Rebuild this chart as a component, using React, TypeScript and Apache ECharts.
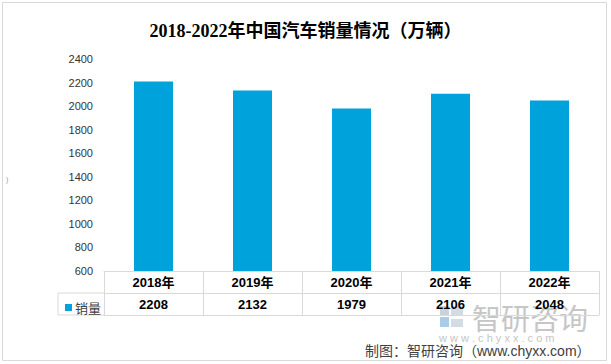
import React, { useEffect, useRef } from "react";
import * as echarts from "echarts";

const categories = ["2018年", "2019年", "2020年", "2021年", "2022年"];
const sales = [2208, 2132, 1979, 2106, 2048];
const seriesName = "销量";
const yMin = 600;
const yMax = 2400;
const yInterval = 200;

const LINE = "#d9d9d9";
const BAR = "#00a2dc";

export default function App() {
  const ref = useRef<HTMLDivElement>(null);
  useEffect(() => {
    if (!ref.current) return;
    const chart = echarts.init(ref.current, null, { renderer: "svg" });
    const valueLabels = sales.map((v) => String(v));
    chart.setOption({
      animation: false,
      backgroundColor: "#ffffff",
      title: {
        text: "2018-2022年中国汽车销量情况（万辆）",
        left: "center",
        top: 17,
        textStyle: {
          fontFamily: "'Liberation Serif', 'Noto Sans CJK SC'",
          fontSize: 18,
          fontWeight: "bold",
          color: "#000",
        },
      },
      legend: {
        left: 60,
        top: 296,
        icon: "rect",
        itemWidth: 7,
        itemHeight: 7,
        itemGap: 4,
        textStyle: { fontSize: 13, color: "#404040", fontFamily: "'Noto Sans CJK SC'", padding: [0, 0, 0, -2] },
        data: [seriesName],
      },
      grid: { left: 104, right: 12, top: 59, bottom: 93, containLabel: false },
      xAxis: [
        {
          type: "category",
          data: categories,
          position: "bottom",
          axisLine: { show: true, lineStyle: { color: LINE } },
          axisTick: { show: true, length: 44, lineStyle: { color: LINE } },
          axisLabel: { fontSize: 13, fontWeight: "bold", color: "#000", margin: 5, fontFamily: "'Liberation Sans', 'Noto Sans CJK SC'" },
        },
        {
          type: "category",
          data: valueLabels,
          position: "bottom",
          offset: 22,
          axisLine: { show: true, lineStyle: { color: LINE } },
          axisTick: { show: false },
          axisLabel: { fontSize: 13, fontWeight: "bold", color: "#000", margin: 5, fontFamily: "'Liberation Sans'" },
        },
        {
          type: "category",
          data: valueLabels,
          position: "bottom",
          offset: 44,
          axisLine: { show: true, lineStyle: { color: LINE } },
          axisTick: { show: false },
          axisLabel: { show: false },
        },
      ],
      yAxis: {
        type: "value",
        min: yMin,
        max: yMax,
        interval: yInterval,
        axisLine: { show: false },
        axisTick: { show: false },
        splitLine: { show: false },
        axisLabel: {
          fontSize: 11,
          color: "#333",
          margin: 11,
          fontFamily: "'Liberation Sans'",
          formatter: (v: number) => String(v),
        },
      },
      series: [
        {
          name: seriesName,
          type: "bar",
          xAxisIndex: 0,
          data: sales,
          barWidth: 39,
          itemStyle: { color: BAR },
        },
      ],
      graphic: [
        { type: "rect", shape: { x: 2.5, y: 2.5, width: 604, height: 358 }, style: { fill: "none", stroke: LINE, lineWidth: 1 }, silent: true },
        { type: "line", shape: { x1: 58, y1: 293, x2: 104, y2: 293 }, style: { stroke: LINE, lineWidth: 1 } },
        { type: "line", shape: { x1: 58, y1: 315, x2: 104, y2: 315 }, style: { stroke: LINE, lineWidth: 1 } },
        { type: "line", shape: { x1: 58, y1: 293, x2: 58, y2: 315 }, style: { stroke: LINE, lineWidth: 1 } },
        { type: "text", left: 6, top: 176, style: { text: ")", fontSize: 7, fill: "#999" } },
        // watermark logo
        { type: "rect", shape: { x: 440, y: 306, width: 9, height: 9 }, style: { fill: "#c9d3de" } },
        { type: "rect", shape: { x: 451, y: 306, width: 12, height: 9 }, style: { fill: "#d3dbe4" } },
        { type: "rect", shape: { x: 440, y: 317, width: 9, height: 10 }, style: { fill: "#a8cdea" } },
        { type: "rect", shape: { x: 451, y: 319, width: 12, height: 8 }, style: { fill: "#d3dbe4" } },
        {
          type: "text",
          left: 472,
          top: 302,
          style: { text: "智研咨询", fontSize: 29, lineHeight: 29, fill: "#c6c6c6", fontFamily: "'Noto Sans CJK SC'" },
        },
        {
          type: "text",
          left: 439,
          top: 332,
          style: { text: "w w w . c h y x x . c o m", fontSize: 11, lineHeight: 11, fill: "#c6c6c6", fontFamily: "'Liberation Sans'" },
        },
        {
          type: "text",
          left: 365,
          top: 343,
          style: { text: "制图：智研咨询（www.chyxx.com）", fontSize: 14, lineHeight: 15, fill: "#404040", fontFamily: "'Liberation Sans', 'Noto Sans CJK SC'" },
        },
      ],
    });
    return () => chart.dispose();
  }, []);
  return <div ref={ref} style={{ position: "fixed", left: 0, top: 0, width: 611, height: 364 }} />;
}
